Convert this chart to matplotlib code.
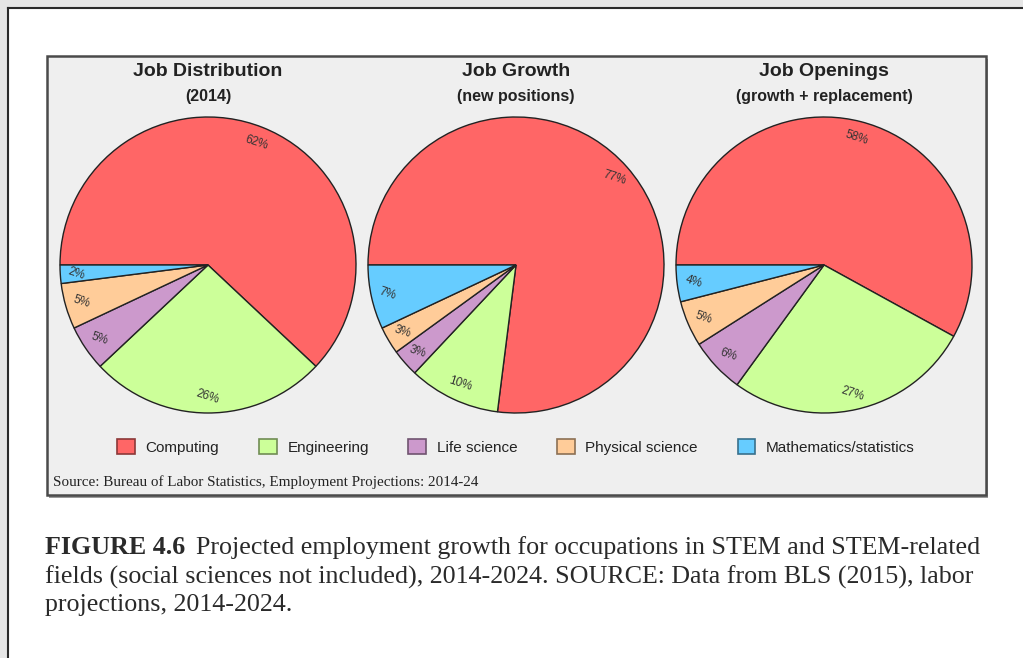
import matplotlib
matplotlib.use("Agg")
import matplotlib.pyplot as plt
from matplotlib.patches import Rectangle, Patch
import matplotlib.colors as mcolors

# Categories and shares (percent) for each pie
categories = ["Computing", "Engineering", "Life science", "Physical science",
              "Mathematics/statistics"]
job_distribution = [62, 26, 5, 5, 2]
job_growth = [77, 10, 3, 3, 7]
job_openings = [58, 27, 6, 5, 4]

titles = ["Job Distribution", "Job Growth", "Job Openings"]
subtitles = ["(2014)", "(new positions)", "(growth + replacement)"]
colors = ["#ff6666", "#ccff99", "#cc99cc", "#ffcc99", "#66ccff"]

source_note = "Source: Bureau of Labor Statistics, Employment Projections: 2014-24"
caption_bold = "FIGURE 4.6"
caption_lines = [
    "Projected employment growth for occupations in STEM and STEM-related",
    "fields (social sciences not included), 2014-2024. SOURCE: Data from BLS (2015), labor",
    "projections, 2014-2024.",
]

W, H = 1023, 658
SANS = ["Liberation Sans", "DejaVu Sans"]
SERIF = ["Liberation Serif", "DejaVu Serif"]


def fx(x):
    return x / W


def fy(y):
    return 1 - y / H


fig = plt.figure(figsize=(W / 100, H / 100), dpi=100)
fig.patch.set_facecolor("#e6e6e6")

# white page with dark left/top border
fig.add_artist(Rectangle((fx(8), 0), 1 - fx(8), fy(8), transform=fig.transFigure,
                         facecolor="white", edgecolor="none", zorder=-5))
fig.add_artist(plt.Line2D([fx(8), fx(8)], [0, fy(8)], transform=fig.transFigure,
                          color="#2a2a2a", lw=1.5, zorder=-4))
fig.add_artist(plt.Line2D([fx(8), 1], [fy(8), fy(8)], transform=fig.transFigure,
                          color="#2a2a2a", lw=1.5, zorder=-4))

# chart box with shadow
bx0, by0, bx1, by1 = 47, 56, 986, 495
fig.add_artist(Rectangle((fx(bx0 + 2), fy(by1 + 3)), fx(bx1 - bx0), (by1 - by0) / H,
                         transform=fig.transFigure, facecolor="#9a9a9a",
                         edgecolor="none", zorder=-3))
fig.add_artist(Rectangle((fx(bx0), fy(by1)), fx(bx1 - bx0), (by1 - by0) / H,
                         transform=fig.transFigure, facecolor="#efefef",
                         edgecolor="#4a4a4a", lw=1.8, zorder=-2))

centers = [(208, 265), (516, 265), (824, 265)]
R = 148
pad = 1.04
series = [job_distribution, job_growth, job_openings]

for (cx, cy), vals, title, sub in zip(centers, series, titles, subtitles):
    ax = fig.add_axes([fx(cx - R * pad), fy(cy + R * pad),
                       2 * R * pad / W, 2 * R * pad / H])
    ax.patch.set_alpha(0)
    wedges, texts = ax.pie(
        vals, colors=colors, startangle=180, counterclock=False,
        labels=[f"{v}%" for v in vals], labeldistance=0.89,
        wedgeprops=dict(edgecolor="#222222", linewidth=1.0),
        textprops=dict(fontsize=8.5, color="#333333", family=SANS),
    )
    # labels in the source are all tilted a little clockwise
    for t in texts:
        t.set_rotation(-18)
        t.set_rotation_mode("anchor")
        t.set_ha("center")
        t.set_va("center")
    ax.set_xlim(-pad, pad)
    ax.set_ylim(-pad, pad)
    ax.set_aspect("equal")
    ax.axis("off")

    fig.text(fx(cx), fy(72), title, ha="center", va="center", fontsize=14,
             fontweight="bold", color="#222222", family=SANS)
    fig.text(fx(cx), fy(96), sub, ha="center", va="center", fontsize=11.5,
             fontweight="bold", color="#222222", family=SANS)

# legend
handles = []
for c in colors:
    dark = tuple(v * 0.55 for v in mcolors.to_rgb(c))
    handles.append(Patch(facecolor=c, edgecolor=dark, linewidth=1.2))
fig.legend(handles, categories, loc="center", bbox_to_anchor=(fx(516), fy(447)),
           ncol=5, frameon=False, prop=dict(family=SANS, size=11),
           handlelength=1.15, handleheight=1.15, handletextpad=0.7,
           columnspacing=2.6, labelcolor="#222222")

fig.text(fx(53), fy(482), source_note, ha="left", va="center", fontsize=10.9,
         color="#222222", family=SERIF)

# caption
cap_y = [548, 577, 605]
cap_size = 18.7
bold = fig.text(fx(45), fy(cap_y[0]), caption_bold, ha="left", va="center",
                fontsize=cap_size, fontweight="bold", color="#2a2a2a", family=SERIF)
fig.canvas.draw()
bb = bold.get_window_extent()
fig.text(bb.x1 / W + fx(11), fy(cap_y[0]), caption_lines[0], ha="left", va="center",
         fontsize=cap_size, color="#2a2a2a", family=SERIF)
for y, line in zip(cap_y[1:], caption_lines[1:]):
    fig.text(fx(45), fy(y), line, ha="left", va="center", fontsize=cap_size,
             color="#2a2a2a", family=SERIF)

fig.savefig("out.png", dpi=100, facecolor=fig.get_facecolor())
